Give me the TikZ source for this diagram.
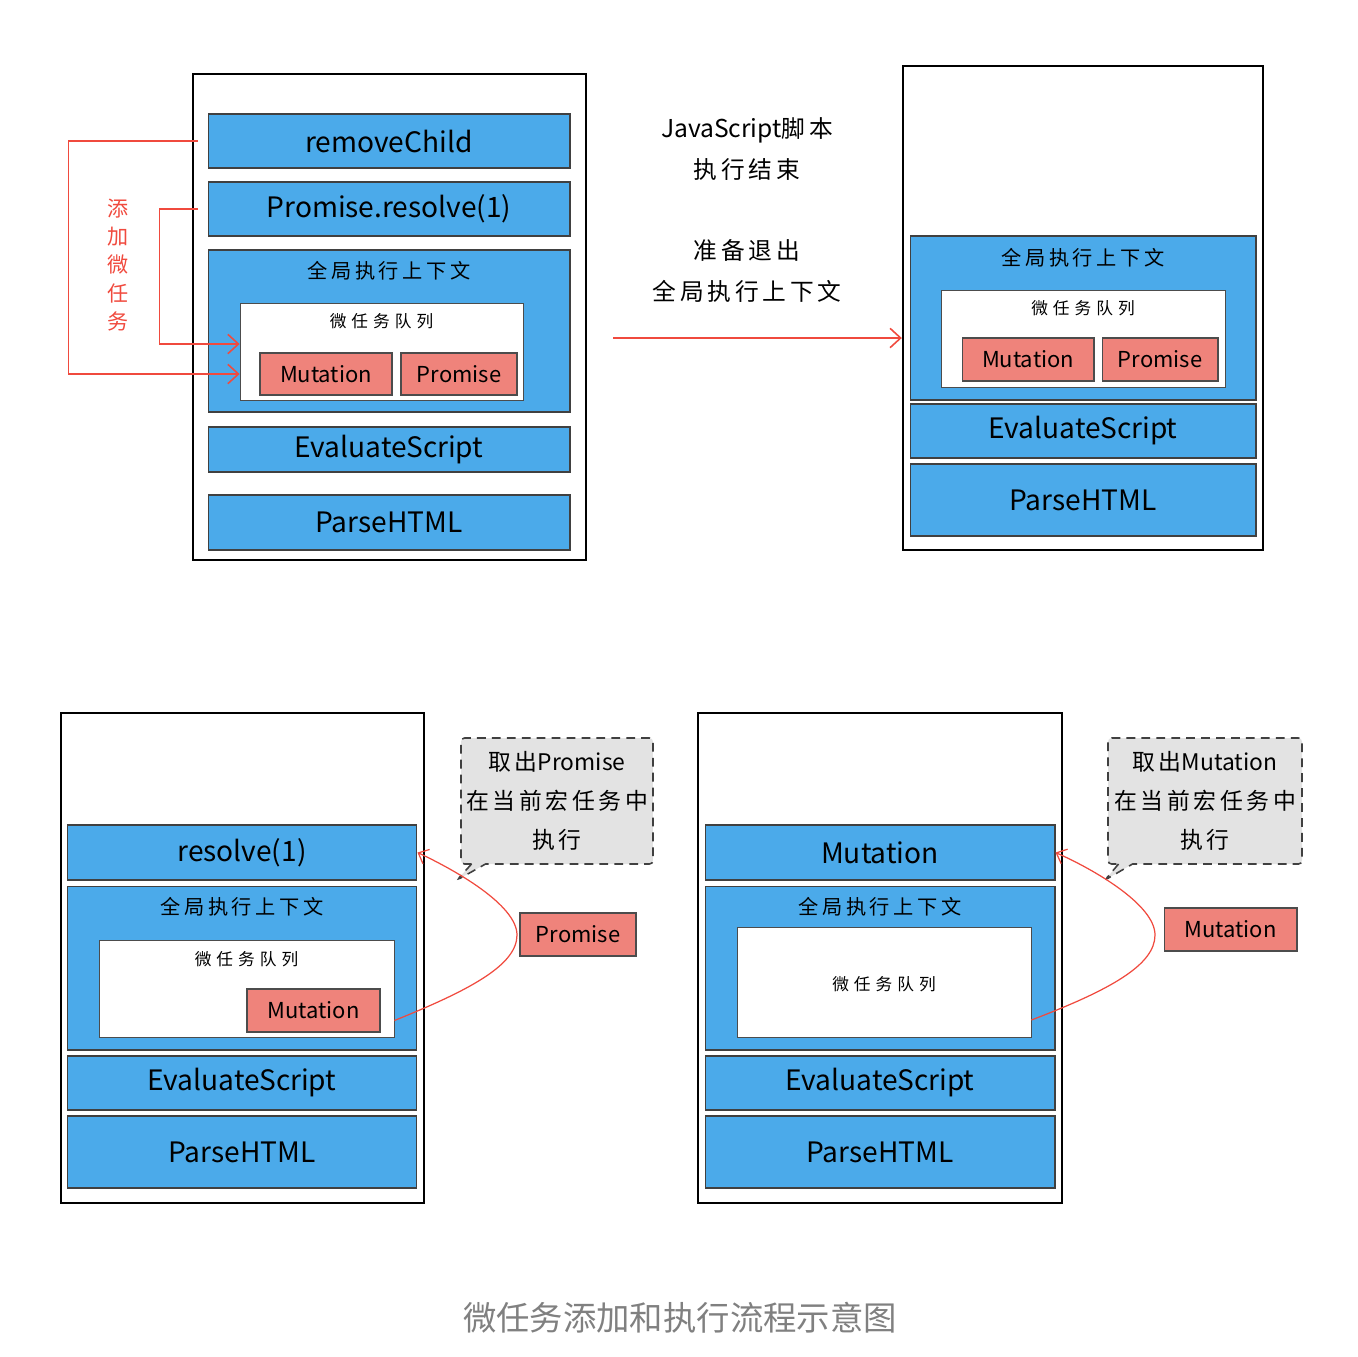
\documentclass[tikz,border=0pt]{standalone}
\usepackage{fontspec}
\setmainfont{Noto Sans CJK SC}
\newfontfamily\plainlat{Noto Sans CJK SC}
\usetikzlibrary{arrows.meta,shapes.callouts}
\definecolor{blockblue}{RGB}{75,170,234}
\definecolor{taskred}{RGB}{239,131,123}
\definecolor{linered}{RGB}{240,74,62}
\definecolor{notegray}{RGB}{227,227,227}
\begin{document}
\begin{tikzpicture}[x=0.02cm,y=-0.02cm,
    frame/.style={draw=black,line width=1.4pt,fill=white,inner sep=0pt},
    blk/.style={draw=black!75,line width=0.6pt,fill=blockblue,inner sep=0pt,
      font=\fontsize{16}{16}\selectfont},
    queue/.style={draw=black!70,line width=0.5pt,fill=white,inner sep=0pt},
    task/.style={draw=black!70,line width=0.6pt,fill=taskred,inner sep=0pt,
      font=\fontsize{12.5}{12.5}\selectfont},
    ctx/.style={font=\fontsize{11.5}{11.5}\selectfont\addfontfeature{LetterSpace=18}},
    qlabel/.style={font=\fontsize{9.5}{9.5}\selectfont\addfontfeature{LetterSpace=30}},
    midtext/.style={font=\fontsize{13.5}{13.5}\selectfont\addfontfeature{LetterSpace=16}},
    note/.style={rectangle callout,draw=black!75,line width=0.9pt,rounded corners=2pt,
      dash pattern=on 5pt off 3.5pt,fill=notegray,inner sep=0pt,align=center,
      callout pointer width=0.28cm,
      font=\fontsize{13}{22}\selectfont\addfontfeature{LetterSpace=16}},
    redline/.style={draw=linered,line width=0.9pt,-{Straight Barb[length=6pt,width=11pt]}},
    curve/.style={draw=linered,line width=0.7pt,-{Straight Barb[length=5pt,width=9pt]}}]

  \useasboundingbox (0,0) rectangle (1358,1356);

  % top left: script running
  \node[frame, minimum width=7.86cm, minimum height=9.72cm] (f1) at (389.5,317) {};
  \node[blk, minimum width=7.24cm, minimum height=1.08cm] (rc) at (389,141) {removeChild};
  \node[blk, minimum width=7.24cm, minimum height=1.08cm] (pr) at (389,209) {Promise.resolve(1)};
  \node[blk, minimum width=7.24cm, minimum height=3.24cm] (gc1) at (389,331) {};
  \node[ctx] (gl1) at (389,271) {全局执行上下文};
  \node[queue, minimum width=5.66cm, minimum height=1.94cm] (q1) at (381.5,351.5) {};
  \node[qlabel] (ql1) at (381.5,321) {微任务队列};
  \node[task, minimum width=2.64cm, minimum height=0.84cm] (m1) at (326,374) {Mutation};
  \node[task, minimum width=2.32cm, minimum height=0.84cm] (p1) at (459,374) {Promise};
  \node[blk, minimum width=7.24cm, minimum height=0.9cm] (es1) at (389,449.5) {EvaluateScript};
  \node[blk, minimum width=7.24cm, minimum height=1.1cm] (ph1) at (389,522.5) {ParseHTML};

  \node[text=linered, align=center, font=\fontsize{12}{16}\selectfont] (add) at (118,265) {添\\加\\微\\任\\务};
  \draw[redline] ([xshift=-0.2cm]rc.west) -- ++(-129,0) |- (q1.west |- m1);
  \draw[redline] ([xshift=-0.2cm]pr.west) -- ++(-38,0) |- ([yshift=0.15cm]q1.west);

  % middle
  \node[midtext] (t1) at (747,130) {{\plainlat\fontsize{14}{14}\selectfont JavaScript}脚本};
  \node[midtext] (t2) at (747,170) {执行结束};
  \node[midtext] (t3) at (747,250) {准备退出};
  \node[midtext] (t4) at (747,291) {全局执行上下文};

  % top right: script finished
  \node[frame, minimum width=7.2cm, minimum height=9.68cm] (f2) at (1083,308) {};
  \node[blk, minimum width=6.92cm, minimum height=3.28cm] (gc2) at (1083,318) {};
  \node[ctx] (gl2) at (1083,258) {全局执行上下文};
  \node[queue, minimum width=5.68cm, minimum height=1.94cm] (q2) at (1083,338.5) {};
  \node[qlabel] (ql2) at (1083,308) {微任务队列};
  \node[task, minimum width=2.64cm, minimum height=0.86cm] (m2) at (1028,359.5) {Mutation};
  \node[task, minimum width=2.32cm, minimum height=0.86cm] (p2) at (1160,359.5) {Promise};
  \node[blk, minimum width=6.92cm, minimum height=1.08cm] (es2) at (1083,431) {EvaluateScript};
  \node[blk, minimum width=6.92cm, minimum height=1.44cm] (ph2) at (1083,500) {ParseHTML};

  \coordinate (a0) at (613,338);
  \draw[redline] (a0) -- (f2.west |- a0);

  % bottom left: Promise taken out
  \node[frame, minimum width=7.26cm, minimum height=9.8cm] (f3) at (242.5,958) {};
  \node[blk, minimum width=7cm, minimum height=1.1cm] (rs3) at (242,852.5) {resolve(1)};
  \node[blk, minimum width=7cm, minimum height=3.28cm] (gc3) at (242,968) {};
  \node[ctx] (gl3) at (242,907) {全局执行上下文};
  \node[queue, minimum width=5.9cm, minimum height=1.94cm] (q3) at (246.5,988.5) {};
  \node[qlabel] (ql3) at (246.5,959) {微任务队列};
  \node[task, minimum width=2.66cm, minimum height=0.86cm] (m3) at (313.5,1010.5) {Mutation};
  \node[blk, minimum width=7cm, minimum height=1.08cm] (es3) at (242,1083) {EvaluateScript};
  \node[blk, minimum width=7cm, minimum height=1.44cm] (ph3) at (242,1152) {ParseHTML};

  \node[note, minimum width=3.84cm, minimum height=2.52cm, callout absolute pointer={(457,880)}] (n3) at (557,801) {取出{\plainlat Promise}\\在当前宏任务中\\执行};
  \node[task, minimum width=2.32cm, minimum height=0.86cm] (p3) at (578,934.5) {Promise};
  \draw[curve] ([yshift=-0.64cm]q3.east) .. controls (470,990) and (517,965) .. (517,935)
    .. controls (517,905) and (455,870) .. (rs3.east);

  % bottom right: Mutation taken out
  \node[frame, minimum width=7.28cm, minimum height=9.8cm] (f4) at (880,958) {};
  \node[blk, minimum width=7cm, minimum height=1.1cm] (mu4) at (880,852.5) {Mutation};
  \node[blk, minimum width=7cm, minimum height=3.28cm] (gc4) at (880,968) {};
  \node[ctx] (gl4) at (880,907) {全局执行上下文};
  \node[queue, minimum width=5.88cm, minimum height=2.2cm] (q4) at (884,982) {};
  \node[qlabel] (ql4) at (884,984) {微任务队列};
  \node[blk, minimum width=7cm, minimum height=1.08cm] (es4) at (880,1083) {EvaluateScript};
  \node[blk, minimum width=7cm, minimum height=1.44cm] (ph4) at (880,1152) {ParseHTML};

  \node[note, minimum width=3.88cm, minimum height=2.52cm, callout absolute pointer={(1105,880)}] (n4) at (1205,801) {取出{\plainlat Mutation}\\在当前宏任务中\\执行};
  \node[task, minimum width=2.66cm, minimum height=0.86cm] (m4) at (1230.5,929.5) {Mutation};
  \draw[curve] ([yshift=-0.76cm]q4.east) .. controls (1110,990) and (1155,965) .. (1155,935)
    .. controls (1155,905) and (1095,870) .. (mu4.east);

  \node[text=black!50, font=\fontsize{19}{19}\selectfont] (cap) at (680,1318) {微任务添加和执行流程示意图};

\end{tikzpicture}
\end{document}
